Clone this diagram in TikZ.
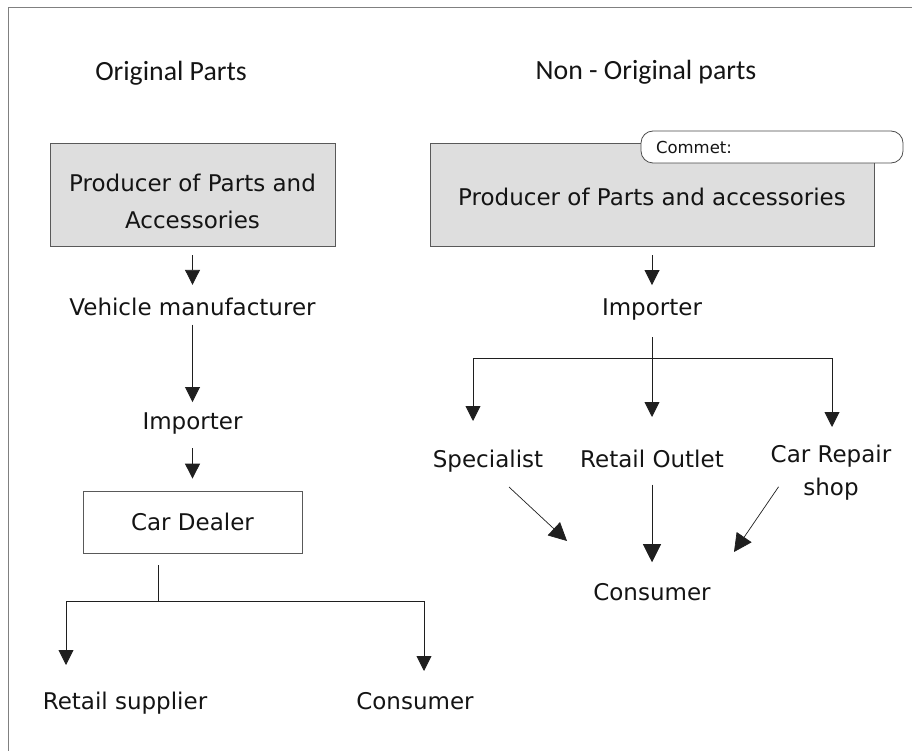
\documentclass[tikz,border=0pt]{standalone}
\usepackage{fontspec}
\setmainfont{DejaVu Sans}
\newfontfamily\headfont{Carlito}
\usetikzlibrary{arrows.meta}

\begin{document}
\begin{tikzpicture}[x=1pt,y=-1pt,
  every node/.style={inner sep=0pt,text=black!92,font=\fontsize{23}{37}\selectfont},
  head/.style={anchor=base,font=\headfont\fontsize{27.8}{33}\selectfont},
  lbl/.style={anchor=base},
  partsbox/.style={draw=black!65,fill=black!13,line width=0.8pt,minimum height=103pt},
  arr/.style={draw=black!88,line width=0.9pt,-{Triangle[width=15pt,length=15pt]}},
  bigarr/.style={draw=black!88,line width=0.7pt,-{Triangle[width=18pt,length=18pt]}},
  wire/.style={draw=black!88,line width=0.9pt}]
  \useasboundingbox (0,0) rectangle (912,751);
  \draw[black!50,line width=1pt] (8,751) -- (8,8) -- (912,8);
  \node[head] (orig) at (171,81) {Original Parts};
  \node[head] (nonorig) at (646,80) {Non - Original parts};

  \node[partsbox,minimum width=285pt] (prodL) at (192.5,194.5) {};
  \node[align=center,anchor=north] (prodLt) at (192.5,173.5) {Producer of Parts and\\Accessories};
  \node[lbl] (vman) at (192.5,315) {Vehicle manufacturer};
  \node[lbl] (impL) at (192.5,429) {Importer};
  \node[draw=black!65,line width=0.8pt,minimum width=219pt,minimum height=62pt] (dealer) at (192.5,522) {Car Dealer};
  \node[lbl] (rsup) at (125,709) {Retail supplier};
  \node[lbl] (consL) at (415,709) {Consumer};
  \draw[arr,shorten <=9pt,shorten >=12.5pt] (prodL) -- (vman);
  \draw[arr,shorten <=9pt,shorten >=10pt] (vman) -- (impL);
  \draw[arr,shorten <=14.5pt,shorten >=12pt] (impL) -- (dealer);
  \coordinate (dealJ) at (158,601);
  \coordinate (rsupIn) at (66,665);
  \coordinate (consLIn) at (424,671);
  \draw[wire] ([xshift=-34.5pt,yshift=-12pt]dealer.south) -- (dealJ);
  \foreach \c in {rsupIn,consLIn} \draw[arr] (dealJ) -| (\c);

  \node[partsbox,minimum width=444pt] (prodR) at (652,194.5) {};
  \node[lbl] (prodRt) at (652,206) {Producer of Parts and accessories};
  \node[draw=black!70,fill=white,rounded corners=12pt,line width=0.8pt,minimum width=262pt,minimum height=32pt,
        text width=232pt,align=left,font=\fontsize{16.5}{19}\selectfont] (note) at (772,147) {Commet:};
  \node[lbl] (impR) at (652,315) {Importer};
  \node[lbl] (spec) at (488,467) {Specialist};
  \node[lbl] (outlet) at (652,467) {Retail Outlet};
  \node[align=center,anchor=north,font=\fontsize{23}{33}\selectfont] (shop) at (831,444.5) {Car Repair\\shop};
  \node[lbl] (consR) at (652,600) {Consumer};
  \draw[arr,shorten <=9pt,shorten >=13pt] (prodR) -- (impR);
  \coordinate (impJ) at (652,358);
  \coordinate (outIn) at (652,417);
  \coordinate (specIn) at (473,421);
  \coordinate (shopIn) at (832,427);
  \draw[arr,shorten <=17.5pt] (impR) -- (outIn);
  \foreach \c in {specIn,shopIn} \draw[arr] (impJ) -| (\c);
  \coordinate (specEnd) at (567,541);
  \coordinate (shopEnd) at (734,552);
  \draw[bigarr] ([xshift=21pt,yshift=-20pt]spec.base) -- (specEnd);
  \draw[bigarr,shorten <=17pt,shorten >=20.5pt] (outlet) -- (consR);
  \draw[bigarr] ([xshift=8pt,yshift=-14.5pt]shop.west) -- (shopEnd);
\end{tikzpicture}
\end{document}
